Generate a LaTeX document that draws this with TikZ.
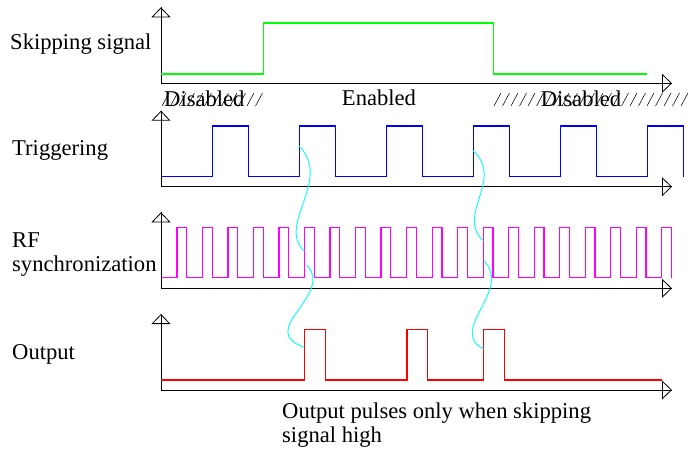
\documentclass[tikz,border=0pt]{standalone}
\usepackage{fontspec}
\setmainfont{Liberation Serif}
\usetikzlibrary{arrows.meta}
\definecolor{skipgreen}{RGB}{0,255,0}
\definecolor{trigblue}{RGB}{0,0,255}
\definecolor{rfmagenta}{RGB}{255,0,255}
\definecolor{outred}{RGB}{255,0,0}
\definecolor{linkcyan}{RGB}{0,255,255}

\begin{document}
\begin{tikzpicture}[
    x=1pt, y=-1pt,
    axis/.style={draw=black, line width=0.8pt},
    axtip/.style={-{Triangle[open, length=10pt, width=19pt]}, line width=0.8pt},
    wave/.style={line width=1.2pt},
    hatch/.style={draw=black, line width=0.55pt},
    link/.style={draw=linkcyan, line width=0.9pt},
    lbl/.style={font=\fontsize{22.6}{24}\selectfont, align=left, inner sep=0pt},
]
\useasboundingbox (0,0) rectangle (688,450);

% axes
\foreach \ay [count=\i] in {83.3,186.7,288.3,390} {
    \coordinate (o\i) at (161,\ay);
    \coordinate (up\i) at (161,{\ay-76});
    \coordinate (rt\i) at (672,\ay);
    \draw[axis] (up\i) -- (o\i) -- (rt\i);
    \draw[axtip] (o\i) -- (up\i);
    \draw[axtip] (o\i) -- (rt\i);
}

% signal names
\node[lbl, anchor=west] (skip) at (10,44) {Skipping signal};
\node[lbl, anchor=west] (trig) at (12,150) {Triggering};
\node[lbl, anchor=west] (rf) at (12,255) {RF\\synchronization};
\node[lbl, anchor=west] (out) at (12,354) {Output};

% disabled / enabled zones
\foreach \hx in {162,170.5,...,258}
    \draw[hatch] (\hx,106) -- ({\hx+7},93);
\foreach \hx in {494,502.5,...,686}
    \draw[hatch] (\hx,106) -- ({\hx+7},93);
\node[lbl, anchor=west] (disL) at (164,99) {Disabled};
\node[lbl] (enab) at (379,98) {Enabled};
\node[lbl] (disR) at (581,99) {Disabled};

% skipping signal
\draw[wave, skipgreen] (161,74) -- (263.6,74) -- (263.6,23) -- (493.7,23)
    -- (493.7,74) -- (647,74);

% triggering
\draw[wave, trigblue] (161,176.7)
    \foreach \k in {0,...,5} {
        -- ({212.7+87*\k},176.7) -- ({212.7+87*\k},126)
        -- ({248.7+87*\k},126) -- ({248.7+87*\k},176.7)
    };

% rf synchronization
\draw[wave, rfmagenta] (161,277.7)
    \foreach \k in {0,...,19} {
        -- ({176.9+25.52*\k},277.7) -- ({176.9+25.52*\k},227.7)
        -- ({186.7+25.52*\k},227.7) -- ({186.7+25.52*\k},277.7)
    };

% output
\draw[wave, outred] (161,380) -- (304.3,380) -- (304.3,329.3) -- (325.3,329.3)
    -- (325.3,380) -- (406.9,380) -- (406.9,329.3) -- (427.5,329.3)
    -- (427.5,380) -- (483.7,380) -- (483.7,329.3) -- (504.3,329.3)
    -- (504.3,380) -- (662.4,380);

% edge links
\coordinate (trgA) at (299,146);
\coordinate (rfAin) at (304.3,251);
\coordinate (rfAout) at (306.7,265);
\coordinate (outA) at (304.3,347.3);
\coordinate (trgB) at (473,150.7);
\coordinate (rfBin) at (483.5,241);
\coordinate (rfBout) at (484,261);
\coordinate (outB) at (483.5,349);

\draw[link] (trgA) .. controls (333,180) and (276,225) .. (rfAin);
\draw[link] (rfAout) .. controls (335,295) and (255,330) .. (outA);
\draw[link] (trgB) .. controls (505,180) and (455,215) .. (rfBin);
\draw[link] (rfBout) .. controls (513,290) and (447,330) .. (outB);

\node[lbl, anchor=west] (note) at (282,425) {Output pulses only when skipping\\signal high};

\end{tikzpicture}
\end{document}
